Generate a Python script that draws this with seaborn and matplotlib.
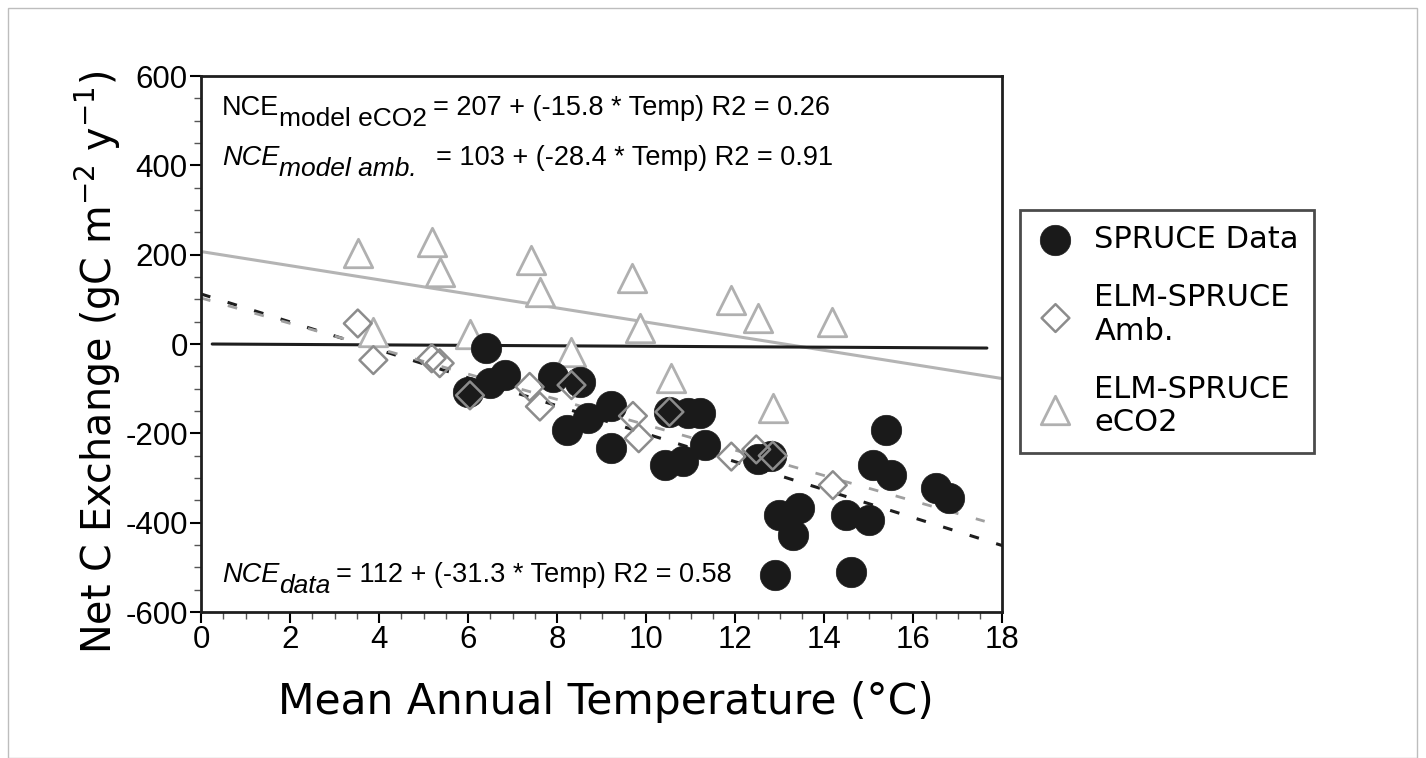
import numpy as np
import pandas as pd
import matplotlib
matplotlib.use("Agg")
import matplotlib.pyplot as plt
from matplotlib.ticker import MultipleLocator
from matplotlib.patches import Rectangle
import seaborn as sns

# SPRUCE observations: mean annual temperature (C) and net C exchange
data_temp = [6.0, 6.41, 6.49, 6.82, 7.91, 8.5, 8.21, 8.69, 9.2, 9.2,
             10.52, 10.94, 11.2, 10.41, 10.82, 11.31, 12.5, 12.81, 12.99, 13.44,
             13.29, 12.9, 14.6, 14.49, 15.01, 15.39, 15.09, 15.5, 16.51, 16.81]
data_nce = [-107, -10, -88, -69, -73, -84, -193, -166, -138, -232,
            -153, -155, -155, -271, -263, -226, -258, -250, -383, -368,
            -428, -517, -510, -383, -394, -193, -271, -293, -323, -345]

# ELM-SPRUCE ambient CO2 runs
amb_temp = [3.52, 3.87, 5.18, 5.36, 6.04, 7.38, 7.61, 8.32, 9.7, 9.83,
            10.52, 11.91, 12.47, 12.84, 14.19]
amb_nce = [46, -36, -32, -43, -115, -96, -140, -92, -161, -211,
           -152, -252, -236, -250, -316]

# ELM-SPRUCE elevated CO2 runs
eco2_temp = [3.53, 3.87, 5.19, 5.36, 6.04, 7.41, 7.61, 8.3, 9.67, 9.85,
             10.55, 11.91, 12.51, 12.84, 14.18]
eco2_nce = [203, 28, 229, 162, 22, 188, 117, -17, 147, 35,
            -77, 98, 58, -144, 50]

# regression fits printed on the figure (intercept, slope)
fit_data = (112, -31.3)
fit_amb = (103, -28.4)
fit_eco2 = (207, -15.8)
fit_data_x = [0, 18]
fit_amb_x = [0, 17.6]
fit_eco2_x = [0, 18]

# zero reference line
zero_x = [0.25, 17.65]
zero_y = [0, -9]

sns.set_style("ticks")
plt.rcParams["font.family"] = ["Liberation Sans", "DejaVu Sans"]
plt.rcParams["axes.unicode_minus"] = False
plt.rcParams["lines.scale_dashes"] = False
plt.rcParams["text.color"] = "black"
plt.rcParams["axes.labelcolor"] = "black"
plt.rcParams["xtick.color"] = "black"
plt.rcParams["ytick.color"] = "black"

fig = plt.figure(figsize=(14.26, 7.58), dpi=100)
ax = fig.add_axes([0.141, 0.1926, 0.562, 0.7071])

df_data = pd.DataFrame({"temp": data_temp, "nce": data_nce})
df_amb = pd.DataFrame({"temp": amb_temp, "nce": amb_nce})
df_eco2 = pd.DataFrame({"temp": eco2_temp, "nce": eco2_nce})

# fitted lines
fx = np.array(fit_eco2_x)
ax.plot(fx, fit_eco2[0] + fit_eco2[1] * fx, color="#b4b4b4", lw=2.2, zorder=1)
fx = np.array(fit_data_x)
ax.plot(fx, fit_data[0] + fit_data[1] * fx, color="#1e1e1e", lw=2.2,
        dashes=(7, 13), zorder=1)
fx = np.array(fit_amb_x)
ax.plot(fx, fit_amb[0] + fit_amb[1] * fx, color="#a0a0a0", lw=2.0,
        dashes=(7, 13), zorder=1)
ax.plot(zero_x, zero_y, color="#1e1e1e", lw=2.2, zorder=1)

sns.scatterplot(data=df_eco2, x="temp", y="nce", ax=ax, marker="^", s=420,
                facecolor="white", edgecolor="#b0b0b0", linewidth=2.0,
                label="ELM-SPRUCE\neCO2", zorder=2)
sns.scatterplot(data=df_data, x="temp", y="nce", ax=ax, marker="o", s=480,
                color="#1a1a1a", edgecolor="#1a1a1a", linewidth=0.5,
                label="SPRUCE Data", zorder=3)
sns.scatterplot(data=df_amb, x="temp", y="nce", ax=ax, marker="D", s=200,
                facecolor="none", edgecolor="#8c8c8c", linewidth=1.8,
                label="ELM-SPRUCE\nAmb.", zorder=4)

ax.set_xlim(0, 18)
ax.set_ylim(-600, 600)
ax.xaxis.set_major_locator(MultipleLocator(2))
ax.xaxis.set_minor_locator(MultipleLocator(0.5))
ax.yaxis.set_major_locator(MultipleLocator(200))
ax.yaxis.set_minor_locator(MultipleLocator(50))
ax.tick_params(which="major", direction="out", length=8, width=1.5,
               labelsize=22.5, pad=1.5)
ax.tick_params(which="minor", direction="out", length=5, width=1.0,
               color="#555555")
for s in ax.spines.values():
    s.set_linewidth(2)
    s.set_color("#1e1e1e")

ax.set_xlabel("Mean Annual Temperature (°C)", fontsize=30.5,
              family="DejaVu Sans")
ax.xaxis.set_label_coords(0.505, -0.128)
ax.set_ylabel("Net C Exchange (gC m$^{-2}$ y$^{-1}$)", fontsize=28.5,
              family="DejaVu Sans")
ax.yaxis.set_label_coords(-0.097, 0.466)


def equation(x, y, sub, rest, italic, gap=4):
    style = "italic" if italic else "normal"
    base = ax.text(x, y, "NCE", transform=ax.transAxes, fontsize=19.5,
                   style=style, va="baseline")
    subt = ax.annotate(sub, xy=(1, 0), xycoords=base, xytext=(0, -7),
                       textcoords="offset points", fontsize=19, style=style,
                       va="bottom")
    ax.annotate(rest, xy=(1, 0), xycoords=(subt, base), xytext=(gap, 0),
                textcoords="offset points", fontsize=19.5, va="bottom")


equation(0.026, 0.927, "model eCO2", "= 207 + (-15.8 * Temp) R2 = 0.26", False)
equation(0.026, 0.834, "model amb.", "= 103 + (-28.4 * Temp) R2 = 0.91", True,
         gap=14)
equation(0.026, 0.056, "data", "= 112 + (-31.3 * Temp) R2 = 0.58", True)

handles, labels = ax.get_legend_handles_labels()
order = [labels.index("SPRUCE Data"), labels.index("ELM-SPRUCE\nAmb."),
         labels.index("ELM-SPRUCE\neCO2")]
leg = ax.legend([handles[i] for i in order], [labels[i] for i in order],
                loc="upper left", bbox_to_anchor=(0.715, 0.723),
                bbox_transform=fig.transFigure, borderaxespad=0,
                prop={"family": "DejaVu Sans", "size": 22},
                frameon=True, fancybox=False, edgecolor="#1e1e1e",
                labelspacing=0.95, handletextpad=0.6, borderpad=0.5,
                handlelength=1.35)
leg.get_frame().set_linewidth(2)

# thin frame around the whole picture
fig.patches.append(Rectangle((0.0056, 0.0), 0.988, 0.989, transform=fig.transFigure,
                             fill=False, edgecolor="#bdbdbd", lw=1.0))

fig.savefig("out.png", dpi=100)
